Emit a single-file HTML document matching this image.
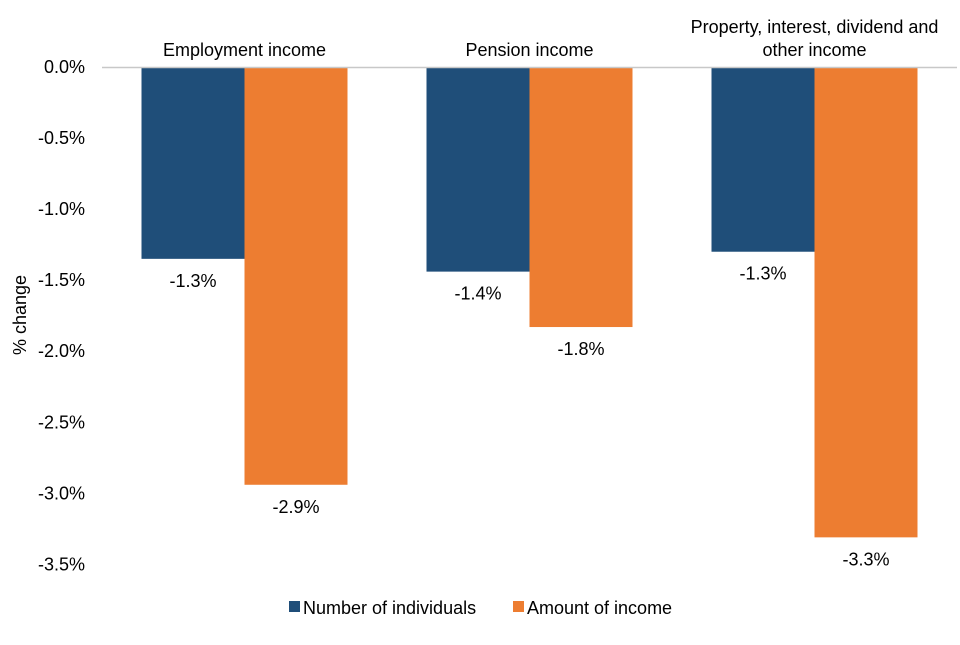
<!DOCTYPE html>
<html><head><meta charset="utf-8"><style>
body{margin:0;background:#fff;font-family:"Liberation Sans",sans-serif}
svg text{font-family:"Liberation Sans",sans-serif;font-size:18px;fill:#000}
</style></head><body>
<svg id="chart" width="960" height="640" viewBox="0 0 960 640"></svg>
<script>
const categories=[["Employment income"],["Pension income"],["Property, interest, dividend and","other income"]];
const individuals=[-1.35,-1.44,-1.30];
const income=[-2.94,-1.83,-3.31];
const individualsLabels=["-1.3%","-1.4%","-1.3%"];
const incomeLabels=["-2.9%","-1.8%","-3.3%"];
const ticks=[0,-0.5,-1.0,-1.5,-2.0,-2.5,-3.0,-3.5];
const tickLabels=["0.0%","-0.5%","-1.0%","-1.5%","-2.0%","-2.5%","-3.0%","-3.5%"];
const svg=document.getElementById('chart');
const NS='http://www.w3.org/2000/svg';
const x0=102,x1=957,yTop=67,yPer=142.1;
const y=v=>yTop-v*yPer;
const bw=(x1-x0)/categories.length;
function mk(t,a,txt){const e=document.createElementNS(NS,t);for(const k in a)e.setAttribute(k,a[k]);if(txt!==undefined)e.textContent=txt;svg.appendChild(e);return e;}
ticks.forEach((t,i)=>{const e=mk('text',{x:85,y:y(t)+6,'text-anchor':'end'},tickLabels[i]);

});
const yt=mk('text',{transform:'translate(26,315) rotate(-90)','text-anchor':'middle'},'% change');


const series=[[individuals,'#1f4e79',individualsLabels],[income,'#ed7d31',incomeLabels]];
categories.forEach((c,i)=>{
  const cx=x0+bw*(i+0.5);
  series.forEach((s,j)=>{
    const v=s[0][i];const bx=cx-103+j*103;
    const r=mk('rect',{x:bx,y:y(0),width:103,height:y(v)-y(0),fill:s[1]});
    
    
    const l=mk('text',{x:bx+51.5,y:y(v)+28,'text-anchor':'middle'},s[2][i]);
    
    
  });
  c.forEach((line,k)=>{
    const t=mk('text',{x:cx,y:56-(c.length-1-k)*23,'text-anchor':'middle'},line);
    
    
  });
});
const ax=mk('line',{x1:x0,x2:x1,y1:y(0)+0.5,y2:y(0)+0.5,stroke:'#c8c8c8','stroke-width':1.5});


[[289,'#1f4e79','Number of individuals'],[513,'#ed7d31','Amount of income']].forEach(([lx,col,txt])=>{
  const r=mk('rect',{x:lx,y:601,width:11,height:11,fill:col});
  
  
  const t=mk('text',{x:lx+14,y:614},txt);
  
  
});
</script>
</body></html>
